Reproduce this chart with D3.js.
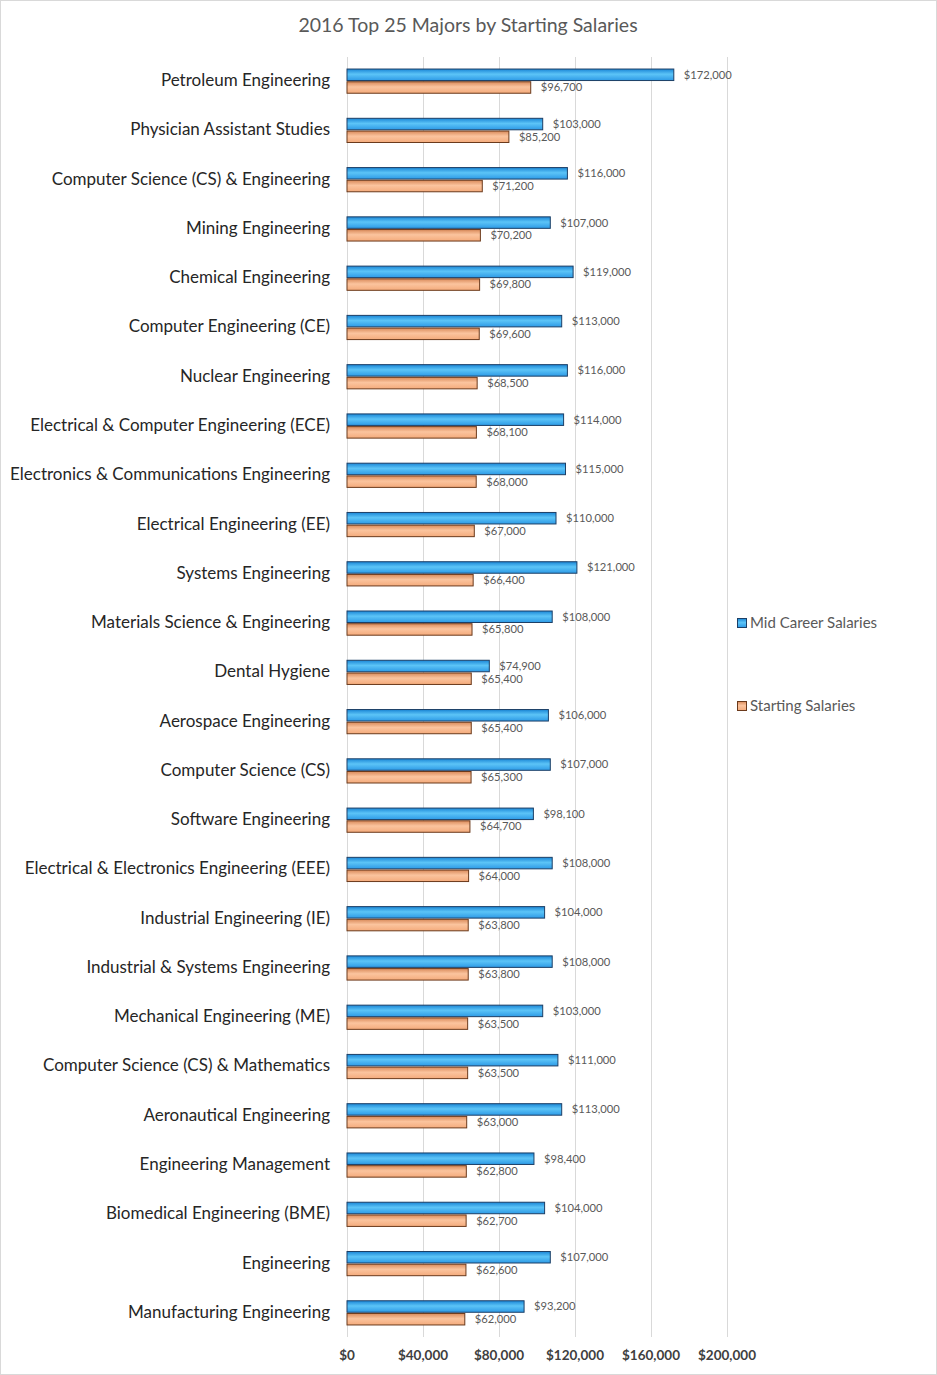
<!DOCTYPE html>
<html>
<head>
<meta charset="utf-8">
<script src="https://cdn.jsdelivr.net/npm/d3@7"></script>
<style>
  body { margin: 0; background: #fff; }
  svg { display: block; }
  .cat { font-family: Lato, "Open Sans", sans-serif; font-size: 17px; fill: #262626; }
  .val { font-family: Lato, "Open Sans", sans-serif; font-size: 11.2px; fill: #595959; }
  .tick-lab { font-family: Lato, "Open Sans", sans-serif; font-size: 13.5px; font-weight: bold; fill: #404040; }
  .legend { font-family: Lato, "Open Sans", sans-serif; font-size: 15px; fill: #595959; }
</style>
</head>
<body>
<svg></svg>
<script>
const categories = [
  "Petroleum Engineering", "Physician Assistant Studies", "Computer Science (CS) & Engineering",
  "Mining Engineering", "Chemical Engineering", "Computer Engineering (CE)", "Nuclear Engineering",
  "Electrical & Computer Engineering (ECE)", "Electronics & Communications Engineering",
  "Electrical Engineering (EE)", "Systems Engineering", "Materials Science & Engineering",
  "Dental Hygiene", "Aerospace Engineering", "Computer Science (CS)", "Software Engineering",
  "Electrical & Electronics Engineering (EEE)", "Industrial Engineering (IE)",
  "Industrial & Systems Engineering", "Mechanical Engineering (ME)",
  "Computer Science (CS) & Mathematics", "Aeronautical Engineering", "Engineering Management",
  "Biomedical Engineering (BME)", "Engineering", "Manufacturing Engineering"
];
const midCareer = [172000, 103000, 116000, 107000, 119000, 113000, 116000, 114000, 115000, 110000,
  121000, 108000, 74900, 106000, 107000, 98100, 108000, 104000, 108000, 103000, 111000, 113000,
  98400, 104000, 107000, 93200];
const starting = [96700, 85200, 71200, 70200, 69800, 69600, 68500, 68100, 68000, 67000,
  66400, 65800, 65400, 65400, 65300, 64700, 64000, 63800, 63800, 63500, 63500, 63000,
  62800, 62700, 62600, 62000];
const xTicks = [0, 40000, 80000, 120000, 160000, 200000];
const seriesNames = ["Mid Career Salaries", "Starting Salaries"];

const W = 937, H = 1375;
const svg = d3.select("svg").attr("width", W).attr("height", H);

// gradients
const defs = svg.append("defs");
const gBlue = defs.append("linearGradient").attr("id", "gBlue").attr("x1", 0).attr("y1", 0).attr("x2", 0).attr("y2", 1);
gBlue.append("stop").attr("offset", "0%").attr("stop-color", "#1a86d6");
gBlue.append("stop").attr("offset", "45%").attr("stop-color", "#5cc4f7");
gBlue.append("stop").attr("offset", "100%").attr("stop-color", "#2d9ae6");
const gOrange = defs.append("linearGradient").attr("id", "gOrange").attr("x1", 0).attr("y1", 0).attr("x2", 0).attr("y2", 1);
gOrange.append("stop").attr("offset", "0%").attr("stop-color", "#d98a5a");
gOrange.append("stop").attr("offset", "45%").attr("stop-color", "#fbc49e");
gOrange.append("stop").attr("offset", "100%").attr("stop-color", "#f4ab7c");

// outer border
svg.append("rect").attr("x", 0.5).attr("y", 0.5).attr("width", W - 1).attr("height", H - 1)
  .attr("fill", "#fff").attr("stroke", "#d9d9d9");

// title
svg.append("text").attr("x", 468).attr("y", 32).attr("text-anchor", "middle")
  .style("font-family", "Lato, 'Open Sans', sans-serif").style("font-size", "19.5px").style("fill", "#595959")
  .text("2016 Top 25 Majors by Starting Salaries");

const x = d3.scaleLinear().domain([0, 200000]).range([347, 727]);
const y = d3.scaleBand().domain(categories).range([56.5, 1337.5]);

// gridlines
svg.append("g").selectAll("line").data(xTicks).join("line")
  .attr("x1", d => Math.round(x(d)) + 0.5).attr("x2", d => Math.round(x(d)) + 0.5)
  .attr("y1", 57).attr("y2", 1337)
  .attr("stroke", "#d9d9d9");

// x axis labels
svg.append("g").selectAll("text").data(xTicks).join("text")
  .attr("class", "tick-lab")
  .attr("x", d => x(d)).attr("y", 1360).attr("text-anchor", "middle")
  .text(d => d3.format("$,")(d));

const barH = 11.5, gap = 1.2;
const rows = svg.append("g").selectAll("g").data(categories).join("g")
  .attr("transform", d => `translate(0,${y(d) + y.bandwidth() / 2})`);

rows.append("text").attr("class", "cat")
  .attr("x", 330).attr("y", -1).attr("dy", "0.35em").attr("text-anchor", "end")
  .text(d => d);

rows.append("rect")
  .attr("x", x(0)).attr("y", -barH - gap / 2)
  .attr("width", (d, i) => x(midCareer[i]) - x(0)).attr("height", barH)
  .attr("fill", "url(#gBlue)").attr("stroke", "#1c3f66").attr("stroke-width", 1);

rows.append("rect")
  .attr("x", x(0)).attr("y", gap / 2)
  .attr("width", (d, i) => x(starting[i]) - x(0)).attr("height", barH)
  .attr("fill", "url(#gOrange)").attr("stroke", "#6b3a1c").attr("stroke-width", 1);

rows.append("text").attr("class", "val")
  .attr("x", (d, i) => x(midCareer[i]) + 10).attr("y", -barH / 2 - gap / 2).attr("dy", "0.35em")
  .text((d, i) => d3.format("$,")(midCareer[i]));

rows.append("text").attr("class", "val")
  .attr("x", (d, i) => x(starting[i]) + 10).attr("y", barH / 2 + gap / 2).attr("dy", "0.35em")
  .text((d, i) => d3.format("$,")(starting[i]));

// legend
const legend = svg.append("g").selectAll("g").data(seriesNames).join("g")
  .attr("transform", (d, i) => `translate(737,${i === 0 ? 623 : 706})`);
legend.append("rect").attr("x", 0.5).attr("y", -4.5).attr("width", 9).attr("height", 9)
  .attr("fill", (d, i) => i === 0 ? "url(#gBlue)" : "url(#gOrange)")
  .attr("stroke", (d, i) => i === 0 ? "#1c3f66" : "#6b3a1c");
legend.append("text").attr("class", "legend").attr("x", 13).attr("y", 0).attr("dy", "0.35em").text(d => d);
</script>
</body>
</html>
